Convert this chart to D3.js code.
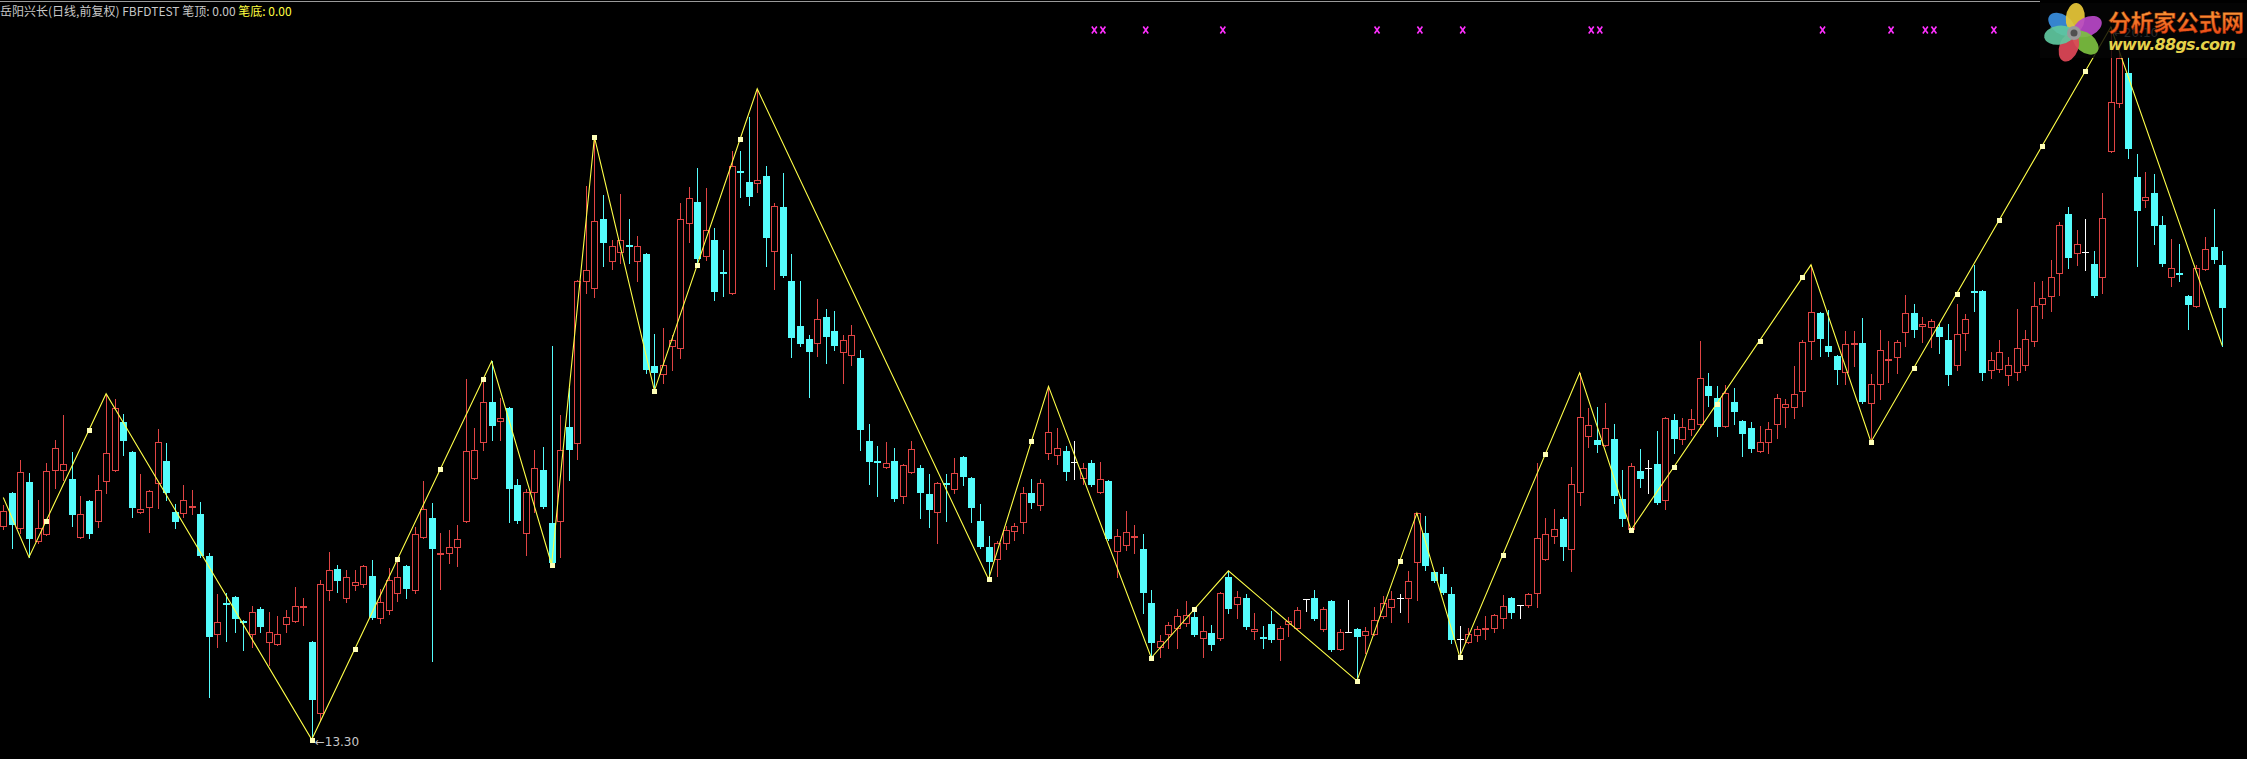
<!DOCTYPE html>
<html><head><meta charset="utf-8">
<script src="https://cdn.jsdelivr.net/npm/d3@7"></script>
<style>html,body{margin:0;padding:0;background:#000;overflow:hidden}</style>
</head><body>
<svg id="chart" width="2247" height="759"></svg>
<script>
// ---- data (price values) ----
const opens = [15.34,15.65,15.32,15.76,15.19,15.26,15.87,15.87,15.79,15.23,15.58,15.39,15.77,15.87,16.33,16.04,15.47,15.52,15.75,15.96,
15.47,15.46,15.52,15.45,15.05,14.31,14.60,14.66,14.43,14.31,14.55,14.23,14.21,14.40,14.43,14.56,14.23,13.55,14.73,14.93,
14.65,14.77,14.78,14.86,14.46,14.54,14.70,14.96,14.73,15.23,15.41,15.07,15.08,15.14,15.39,15.80,16.14,16.52,16.34,16.46,
15.73,15.27,15.66,15.87,15.37,15.39,16.28,16.13,17.68,17.61,18.27,17.87,17.95,18.02,17.87,17.93,16.86,16.79,17.06,17.04,
18.23,18.43,17.91,18.07,17.76,17.56,18.73,18.62,18.61,18.68,17.96,18.38,17.68,17.25,17.12,17.08,17.33,17.20,17.00,16.97,
16.94,16.15,15.96,15.90,15.96,15.62,15.85,15.89,15.64,15.47,15.75,15.69,16.00,15.80,15.39,15.14,15.02,15.18,15.29,15.38,
15.65,15.54,16.03,16.02,16.05,15.95,15.80,15.94,15.66,15.77,15.10,15.16,15.23,15.12,14.60,14.18,14.31,14.36,14.41,14.47,
14.27,14.32,14.27,14.85,14.59,14.65,14.34,14.28,14.40,14.26,14.40,14.36,14.64,14.65,14.35,14.62,14.16,14.33,14.35,14.30,
14.31,14.48,14.56,14.65,14.65,14.99,15.27,14.90,14.88,14.69,14.26,14.23,14.30,14.35,14.36,14.46,14.65,14.58,14.58,14.70,
15.02,15.24,15.40,15.12,15.66,16.20,16.16,16.11,16.17,15.60,15.31,15.86,15.89,15.93,15.59,16.35,16.17,16.26,16.31,16.67,
16.56,16.29,16.52,16.34,16.27,16.05,16.14,16.31,16.47,16.47,16.63,17.10,17.37,17.06,16.96,16.81,17.07,17.08,16.51,16.69,
16.92,16.95,17.19,17.37,17.25,17.24,17.24,17.11,16.87,17.18,17.58,17.58,16.83,16.84,16.78,16.81,16.87,17.10,17.46,17.53,
17.75,18.32,17.94,17.95,17.84,17.71,18.92,19.37,19.66,18.67,18.45,18.52,18.21,17.71,17.75,17.53,17.44,17.79,18.00,17.83];
const highs = [15.54,15.66,15.97,15.84,15.59,15.94,16.16,16.40,16.04,15.62,15.59,15.82,16.60,16.55,16.41,16.05,15.83,15.68,16.26,16.13,
15.55,15.73,15.68,15.57,15.08,14.69,14.70,14.67,14.44,14.57,14.56,14.52,14.48,14.54,14.76,14.65,14.24,14.82,15.09,14.97,
14.92,14.92,14.97,15.01,14.74,14.94,14.99,14.97,15.33,15.77,15.56,15.27,15.30,15.35,16.74,16.27,16.75,16.91,16.56,16.47,
15.79,15.69,16.06,16.09,17.06,16.40,16.65,17.69,18.58,19.05,18.50,18.07,18.51,18.27,18.11,17.94,17.17,17.23,17.16,18.42,
18.57,18.75,18.56,18.18,17.97,18.92,18.92,19.24,19.51,18.77,18.42,18.71,17.93,17.68,17.16,17.50,17.41,17.39,17.16,17.26,
17.02,16.31,16.10,16.14,16.08,15.93,16.15,15.92,15.83,15.76,15.83,15.99,16.01,15.81,15.55,15.24,15.19,15.34,15.37,15.71,
15.79,15.79,16.67,16.27,16.10,16.15,15.94,15.97,15.95,15.78,15.31,15.48,15.35,15.26,14.73,14.30,14.42,14.55,14.62,14.55,
14.48,14.39,14.71,14.91,14.72,14.69,14.51,14.38,14.53,14.38,14.47,14.56,14.64,14.73,14.56,14.63,14.35,14.63,14.36,14.37,
14.56,14.67,14.72,14.69,14.91,15.46,15.43,14.91,14.95,14.76,14.38,14.36,14.38,14.48,14.50,14.68,14.66,14.58,14.70,15.94,
15.41,15.50,15.42,15.90,16.80,16.46,16.47,16.51,16.31,15.87,15.94,16.07,15.97,16.24,16.38,16.41,16.37,16.45,17.10,16.80,
16.67,16.68,16.65,16.35,16.33,16.29,16.33,16.60,16.55,16.86,17.11,17.83,17.38,17.40,16.97,17.20,17.20,17.32,16.79,17.21,
17.10,17.11,17.54,17.46,17.33,17.31,17.27,17.27,17.46,17.36,17.83,17.59,17.00,17.11,16.95,17.41,17.21,17.67,17.68,17.88,
18.24,18.38,18.16,18.27,17.96,18.52,20.10,19.97,19.81,18.89,18.72,18.70,18.30,18.08,18.03,17.54,17.83,18.10,18.36,17.96];
const lows = [15.31,15.13,15.27,15.04,15.18,15.25,15.70,15.78,15.34,15.22,15.22,15.33,15.65,15.86,16.02,15.42,15.46,15.28,15.51,15.59,
15.32,15.42,15.45,15.04,13.71,14.18,14.24,14.33,14.15,14.18,14.33,14.01,14.20,14.33,14.42,14.39,13.30,13.49,14.63,14.71,
14.61,14.73,14.76,14.45,14.41,14.50,14.62,14.65,14.70,15.22,14.05,14.74,14.98,14.96,15.38,15.79,16.06,16.16,16.16,15.38,
15.37,15.06,15.47,15.51,14.97,15.04,15.78,15.98,17.56,17.52,17.82,17.79,17.85,17.85,17.68,16.80,16.63,16.70,16.83,16.94,
18.05,17.83,17.88,17.49,17.53,17.55,18.48,18.40,18.53,17.82,17.60,17.71,16.95,17.06,16.57,16.96,16.89,17.02,16.70,16.87,
16.06,15.74,15.62,15.89,15.58,15.56,15.84,15.41,15.33,15.18,15.39,15.65,15.73,15.38,15.13,14.83,14.86,15.12,15.20,15.27,
15.51,15.49,15.98,15.93,15.78,15.79,15.74,15.72,15.65,15.20,14.85,15.11,15.08,14.51,14.08,14.09,14.17,14.17,14.38,14.29,
14.09,14.15,14.25,14.51,14.46,14.35,14.26,14.17,14.23,14.06,14.29,14.35,14.53,14.44,14.34,14.14,14.15,14.33,13.86,14.13,
14.30,14.46,14.42,14.52,14.42,14.63,14.92,14.80,14.69,14.22,14.09,14.22,14.24,14.26,14.33,14.36,14.46,14.46,14.56,14.56,
15.01,15.18,15.01,14.91,15.54,16.09,16.04,16.10,15.56,15.34,15.30,15.71,15.65,15.55,15.50,16.03,16.12,16.21,16.28,16.48,
16.20,16.28,16.31,16.01,16.04,16.04,16.03,16.18,16.28,16.37,16.48,16.93,16.96,16.96,16.69,16.69,16.86,16.51,16.14,16.55,
16.71,16.80,17.06,17.14,17.09,17.05,16.99,16.68,16.83,17.02,17.39,16.73,16.75,16.81,16.68,16.73,16.83,17.06,17.32,17.39,
17.54,17.80,17.83,17.78,17.52,17.56,18.91,19.34,18.85,17.82,18.38,18.03,17.82,17.63,17.68,17.22,17.43,17.78,17.85,17.06];
const closes = [15.48,15.35,15.85,15.21,15.32,15.86,16.08,15.93,15.44,15.45,15.26,15.68,16.03,16.46,16.15,15.51,15.50,15.67,16.14,15.65,
15.38,15.59,15.53,15.05,14.28,14.42,14.59,14.45,14.42,14.52,14.37,14.33,14.31,14.47,14.57,14.57,13.68,14.78,14.92,14.81,
14.85,14.80,14.96,14.46,14.61,14.82,14.85,14.74,15.26,15.50,15.12,15.08,15.14,15.21,16.05,16.06,16.52,16.29,16.37,15.69,
15.39,15.66,15.89,15.52,14.98,16.06,16.06,17.68,17.78,18.25,18.04,18.01,18.07,18.00,18.01,16.83,16.80,16.87,17.11,18.27,
18.47,17.89,18.16,17.57,17.75,18.77,18.71,18.48,18.64,18.09,18.39,17.72,17.13,17.07,17.00,17.31,17.14,17.06,17.11,17.16,
16.25,15.95,15.95,15.94,15.60,15.92,16.07,15.65,15.49,15.75,15.74,15.84,15.81,15.51,15.14,14.99,15.18,15.30,15.34,15.65,
15.56,15.75,16.23,16.08,15.85,15.95,15.89,15.73,15.79,15.21,15.24,15.28,15.24,14.70,14.22,14.24,14.39,14.48,14.49,14.30,
14.34,14.20,14.70,14.55,14.66,14.37,14.35,14.27,14.25,14.36,14.43,14.54,14.64,14.45,14.55,14.15,14.33,14.33,14.28,14.34,
14.44,14.60,14.64,14.65,14.81,15.46,14.96,14.81,14.70,14.25,14.26,14.31,14.35,14.36,14.49,14.57,14.51,14.58,14.69,15.22,
15.26,15.31,15.14,15.74,16.38,16.30,16.11,16.27,15.62,15.40,15.91,15.79,15.89,15.56,16.37,16.17,16.28,16.36,16.75,16.58,
16.28,16.61,16.43,16.22,16.07,16.14,16.26,16.56,16.50,16.60,17.09,17.38,17.12,17.00,16.83,17.07,17.08,16.52,16.69,17.02,
16.93,17.09,17.37,17.21,17.27,17.29,17.14,16.78,17.17,17.31,17.57,16.80,16.92,17.00,16.87,17.04,17.12,17.44,17.51,17.71,
18.21,17.90,18.03,17.95,17.53,18.28,19.38,19.80,18.94,18.34,18.48,18.20,17.84,17.80,17.74,17.45,17.80,17.98,17.88,17.42];

// zigzag (笔) vertices: bar index and price
const zigIdx = [0, 3, 12, 36, 57, 64, 69, 76, 88, 115, 122, 134, 143, 158, 165, 170, 184, 190, 211, 218, 246, 259];
const zigVal = [15.61, 15.04, 16.60, 13.30, 16.91, 14.97, 19.05, 16.63, 19.51, 14.83, 16.67, 14.08, 14.91, 13.86, 15.46, 14.09, 16.80, 15.30, 17.83, 16.14, 20.10, 17.06];
// bars where a small square marker sits on the zigzag
const squareIdx = [5, 10, 36, 41, 46, 51, 56, 64, 69, 76, 81, 86, 115, 120, 134, 139, 158, 163, 170, 175, 180, 190, 195, 200, 205, 210, 218, 223, 228, 233, 238, 243];
// bars with magenta signal crosses at the top
const signalIdx = [127, 128, 133, 142, 160, 165, 170, 185, 186, 212, 220, 224, 225, 232];
// labelled extremes
const lowLabelIdx = 36, highLabelIdx = 246;

const titleMain = "岳阳兴长(日线,前复权) FBFDTEST ";
const titleTop = "笔顶: 0.00";
const titleBottom = "笔底: 0.00";

// ---- drawing ----
const W = 2247, H = 759;
const N = closes.length;
const svg = d3.select("#chart");
svg.append("rect").attr("width", W).attr("height", H).attr("fill", "#000");

const x = d3.scaleLinear().domain([0, N - 1]).range([3.3, 2222.2]);
const y = d3.scaleLinear().domain([13.30, 20.10]).range([739.5, 27]);

const RED = "#e04444", CYAN = "#54fcfc", WHITE = "#ffffff";
const bars = d3.range(N).map(i => ({i, o: opens[i], h: highs[i], l: lows[i], c: closes[i]}));

const g = svg.append("g");
bars.forEach(d => {
  const cx = Math.round(x(d.i));
  const yo = Math.round(y(d.o)), yc = Math.round(y(d.c));
  const yh = Math.round(y(d.h)), yl = Math.round(y(d.l));
  if (d.c > d.o) {
    g.append("line").attr("x1", cx + 0.5).attr("x2", cx + 0.5).attr("y1", yh).attr("y2", yc).attr("stroke", RED);
    g.append("line").attr("x1", cx + 0.5).attr("x2", cx + 0.5).attr("y1", yo).attr("y2", yl + 1).attr("stroke", RED);
    g.append("rect").attr("x", cx - 2.5).attr("y", yc + 0.5).attr("width", 6).attr("height", Math.max(1, yo - yc))
      .attr("fill", "none").attr("stroke", RED).attr("stroke-width", 1);
  } else if (d.c < d.o) {
    g.append("line").attr("x1", cx + 0.5).attr("x2", cx + 0.5).attr("y1", yh).attr("y2", yl + 1).attr("stroke", CYAN);
    g.append("rect").attr("x", cx - 3).attr("y", yo).attr("width", 7).attr("height", Math.max(2, yc - yo)).attr("fill", CYAN);
  } else {
    g.append("line").attr("x1", cx + 0.5).attr("x2", cx + 0.5).attr("y1", yh).attr("y2", yl + 1).attr("stroke", WHITE);
    g.append("line").attr("x1", cx - 3).attr("x2", cx + 4).attr("y1", yc + 0.5).attr("y2", yc + 0.5).attr("stroke", WHITE);
  }
});

// zigzag line
const zz = zigIdx.map((k, j) => [k, zigVal[j]]);
svg.append("path").datum(zz)
  .attr("d", d3.line().x(d => x(d[0])).y(d => y(d[1])))
  .attr("fill", "none").attr("stroke", "#ffff48").attr("stroke-width", 1.1);

function zigAt(k) {
  for (let j = 0; j < zz.length - 1; j++) {
    if (k >= zz[j][0] && k <= zz[j + 1][0]) {
      const t = (k - zz[j][0]) / (zz[j + 1][0] - zz[j][0]);
      return zz[j][1] + t * (zz[j + 1][1] - zz[j][1]);
    }
  }
  return zz[zz.length - 1][1];
}
svg.append("g").selectAll("rect").data(squareIdx).join("rect")
  .attr("x", k => Math.round(x(k)) - 2).attr("y", k => Math.round(y(zigAt(k))) - 2)
  .attr("width", 5).attr("height", 5).attr("fill", "#ffffb8");

// extreme labels
svg.append("text").attr("x", x(lowLabelIdx) + 3).attr("y", y(lows[lowLabelIdx]) + 6)
  .attr("fill", "#c8c8c8").attr("font-family", "DejaVu Sans, sans-serif").attr("font-size", 12)
  .text("←" + lows[lowLabelIdx].toFixed(2));
svg.append("text").attr("x", x(highLabelIdx) + 3).attr("y", y(highs[highLabelIdx]) + 10)
  .attr("fill", "#c8c8c8").attr("font-family", "DejaVu Sans, sans-serif").attr("font-size", 12)
  .text("←" + highs[highLabelIdx].toFixed(2));

// magenta signal crosses
svg.append("g").selectAll("path").data(signalIdx).join("path")
  .attr("transform", k => `translate(${x(k) + 3},30)`)
  .attr("d", "M-2.5,-3.5L2.5,3.5M2.5,-3.5L-2.5,3.5")
  .attr("stroke", "#ff30ff").attr("stroke-width", 1.6).attr("fill", "none");

// top border
svg.append("line").attr("x1", 0).attr("x2", 2040).attr("y1", 1.5).attr("y2", 1.5).attr("stroke", "#9a9a9a");

// title
const t = svg.append("text").attr("x", 0).attr("y", 16)
  .attr("font-family", "Noto Sans CJK SC, sans-serif").attr("font-size", 12);
t.append("tspan").attr("fill", "#c8c8c8").text(titleMain);
t.append("tspan").attr("fill", "#c8c8c8").text(titleTop + " ");
t.append("tspan").attr("fill", "#ffff40").text(titleBottom);

// logo overlay
const logo = svg.append("g");
logo.append("rect").attr("x", 2040).attr("y", 3).attr("width", 207).attr("height", 55).attr("fill", "#050505").attr("opacity", 0.82);
const defs = svg.append("defs");
const gr = defs.append("linearGradient").attr("id", "lg").attr("x1", 0).attr("y1", 0).attr("x2", 0).attr("y2", 1);
gr.append("stop").attr("offset", "0%").attr("stop-color", "#ffb040");
gr.append("stop").attr("offset", "100%").attr("stop-color", "#e83c10");
const petals = [
  {a: -55, c: "#3a8fe0"}, {a: 5, c: "#e8c838"}, {a: 65, c: "#b848c8"},
  {a: 130, c: "#7cc040"}, {a: 200, c: "#e04858"}, {a: 262, c: "#60c8a0"}
];
const fl = logo.append("g").attr("transform", "translate(2074,33)");
petals.forEach(p => {
  fl.append("ellipse").attr("cx", 0).attr("cy", -15).attr("rx", 9.5).attr("ry", 15)
    .attr("transform", `rotate(${p.a})`).attr("fill", p.c).attr("opacity", 0.92);
});
fl.append("circle").attr("r", 7).attr("fill", "#9a9a9a");
fl.append("circle").attr("r", 3.5).attr("fill", "#505050");
logo.append("text").attr("x", 2108).attr("y", 31).attr("font-family", "Noto Sans CJK SC, sans-serif")
  .attr("font-weight", "bold").attr("font-size", 23).attr("textLength", 136).attr("fill", "url(#lg)")
  .attr("stroke", "#802000").attr("stroke-width", 0.4).text("分析家公式网");
logo.append("text").attr("x", 2108).attr("y", 50).attr("font-family", "DejaVu Sans, sans-serif")
  .attr("font-weight", "bold").attr("font-style", "italic").attr("font-size", 16).attr("textLength", 128)
  .attr("fill", "#e6d24a").text("www.88gs.com");
</script>
</body></html>
